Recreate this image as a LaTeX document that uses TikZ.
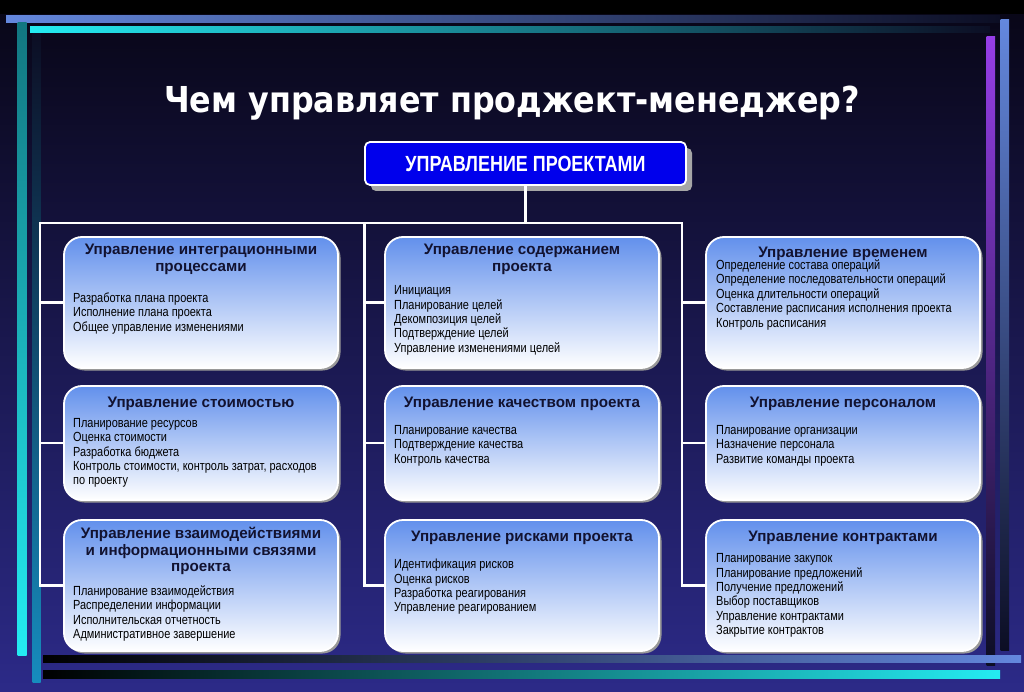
\documentclass[tikz,border=0pt]{standalone}
\usepackage{fontspec}
\setmainfont{Liberation Sans}
\newfontfamily\titlefont{DejaVu Sans}[FakeStretch=0.89]
\newfontfamily\headfont{Liberation Sans}
\newfontfamily\bodyfont{Liberation Sans}[FakeStretch=0.83]
\newfontfamily\topfont{Liberation Sans}[FakeStretch=0.82]
\usetikzlibrary{shadows}
\definecolor{bgtop}{RGB}{8,6,22}
\definecolor{bgbot}{RGB}{44,42,136}
\definecolor{boxtop}{RGB}{98,144,236}
\definecolor{headcol}{RGB}{18,18,48}
\definecolor{topblue}{RGB}{0,0,236}
\definecolor{periw}{RGB}{100,136,222}
\definecolor{aqua}{RGB}{36,236,242}
\definecolor{darkteal}{RGB}{18,118,128}
\definecolor{violetbar}{RGB}{150,62,232}
\definecolor{deep}{RGB}{12,14,36}
\definecolor{steelbar}{RGB}{22,140,190}
\begin{document}
\begin{tikzpicture}[x=1pt,y=-1pt,
conn/.style={white,line width=2.6pt},
blok/.style={draw=white,line width=1.8pt,rounded corners=18pt,top color=boxtop,bottom color=white,
  minimum width=274pt,inner sep=0pt,drop shadow={shadow xshift=2.5pt,shadow yshift=-2.5pt,fill=gray!80,opacity=1}},
tallblok/.style={minimum height=131pt},
lowblok/.style={minimum height=114pt},
topbox/.style={draw=white,line width=1.8pt,fill=topblue,rounded corners=5pt,minimum width=321pt,minimum height=43pt,
  inner sep=0pt,text=white,font=\topfont\bfseries\fontsize{21.9}{24}\selectfont,
  drop shadow={shadow xshift=6pt,shadow yshift=-6pt,fill=gray!70,opacity=1}},
head/.style={anchor=north,inner sep=0pt,align=center,text=headcol,
  font=\headfont\bfseries\fontsize{15.2}{16.7}\selectfont,execute at begin node=\rule{0pt}{14pt}},
body/.style={anchor=north west,inner sep=0pt,align=left,
  font=\bodyfont\fontsize{13.2}{14.4}\selectfont,execute at begin node=\rule{0pt}{12pt}}]
\useasboundingbox (0,0) rectangle (1024,692);

\shade[top color=bgtop,bottom color=bgbot] (0,0) rectangle (1024,692);
\fill[black] (0,0) rectangle (1024,14);

\shade[left color=periw,right color=deep] (6,16) rectangle (1000,22.5);
\shade[left color=aqua,right color=deep] (30,26.5) rectangle (990,32.5);
\shade[top color=darkteal,bottom color=aqua] (17.5,23) rectangle (26.5,655);
\shade[top color=deep,bottom color=steelbar] (32.5,34) rectangle (40.5,682);
\shade[top color=violetbar,bottom color=deep] (986.5,37) rectangle (995,665);
\shade[top color=periw,bottom color=deep] (1000.5,20) rectangle (1009,650);
\shade[left color=black,right color=periw] (43,655) rectangle (1021,662.5);
\shade[left color=black,right color=aqua] (43,670.5) rectangle (1000,678);

\node[font=\titlefont\bfseries\fontsize{35.7}{40}\selectfont,text=white,anchor=base] (title) at (512,113)
{Чем управляет проджект-менеджер?};

\node[topbox] (upr) at (525.5,163.5) {УПРАВЛЕНИЕ ПРОЕКТАМИ};

\node[blok,tallblok] (integr) at (201,302.5) {};
\node[blok,tallblok] (soderzh) at (522,302.5) {};
\node[blok,tallblok] (vremya) at (843,302.5) {};
\node[blok,lowblok] (stoim) at (201,443) {};
\node[blok,lowblok] (kach) at (522,443) {};
\node[blok,lowblok] (pers) at (843,443) {};
\node[blok,tallblok] (vzaim) at (201,585.5) {};
\node[blok,tallblok] (risk) at (522,585.5) {};
\node[blok,tallblok] (kontr) at (843,585.5) {};

\node[head] (integr-h) at (201,244) {Управление интеграционными\\процессами};
\node[head] (soderzh-h) at (522,244) {Управление содержанием\\проекта};
\node[head] (vremya-h) at (843,243.5) {Управление временем};
\node[head] (stoim-h) at (201,393) {Управление стоимостью};
\node[head] (kach-h) at (522,393) {Управление качеством проекта};
\node[head] (pers-h) at (843,393) {Управление персоналом};
\node[head] (vzaim-h) at (201,526.8) {Управление взаимодействиями\\и информационными связями\\проекта};
\node[head] (risk-h) at (522,527) {Управление рисками проекта};
\node[head] (kontr-h) at (843,527) {Управление контрактами};

\node[body] (integr-b) at (73,292.5) {Разработка плана проекта\\Исполнение плана проекта\\Общее управление изменениями};
\node[body] (soderzh-b) at (394,285.5) {Инициация\\Планирование целей\\Декомпозиция целей\\Подтверждение целей\\Управление изменениями целей};
\node[body] (vremya-b) at (716,259.5) {Определение состава операций\\Определение последовательности операций\\Оценка длительности операций\\Составление расписания исполнения проекта\\Контроль расписания};
\node[body] (stoim-b) at (73,418) {Планирование ресурсов\\Оценка стоимости\\Разработка бюджета\\Контроль стоимости, контроль затрат, расходов\\по проекту};
\node[body] (kach-b) at (394,425) {Планирование качества\\Подтверждение качества\\Контроль качества};
\node[body] (pers-b) at (716,425) {Планирование организации\\Назначение персонала\\Развитие команды проекта};
\node[body] (vzaim-b) at (73,585.5) {Планирование взаимодействия\\Распределении информации\\Исполнительская отчетность\\Административное завершение};
\node[body] (risk-b) at (394,559) {Идентификация рисков\\Оценка рисков\\Разработка реагирования\\Управление реагированием};
\node[body] (kontr-b) at (716,553.5) {Планирование закупок\\Планирование предложений\\Получение предложений\\Выбор поставщиков\\Управление контрактами\\Закрытие контрактов};

\coordinate (busL) at (40,223);
\coordinate (busM) at (364.5,223);
\coordinate (busR) at (682,223);

\draw[conn] (upr.south) -- (upr.south |- busL);
\draw[conn] (vzaim.west) -| (busL) -- (busR) |- (kontr.west);
\draw[conn] (busL) |- (integr.west);
\draw[conn] (busL) |- (stoim.west);
\draw[conn] (busM) |- (soderzh.west);
\draw[conn] (busM) |- (kach.west);
\draw[conn] (busM) |- (risk.west);
\draw[conn] (busR) |- (vremya.west);
\draw[conn] (busR) |- (pers.west);

\end{tikzpicture}
\end{document}
